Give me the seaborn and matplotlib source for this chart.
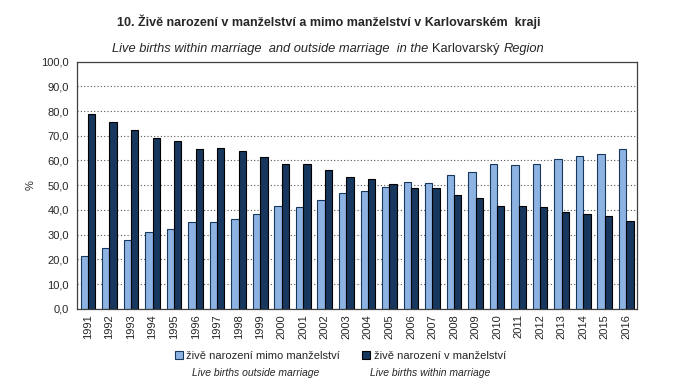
import matplotlib
matplotlib.use("Agg")
import matplotlib.pyplot as plt
import seaborn as sns
import pandas as pd
import numpy as np
from matplotlib.ticker import FixedLocator, FuncFormatter

years = [str(y) for y in range(1991, 2017)]
outside = [21.3, 24.5, 27.8, 31.0, 32.2, 35.0, 35.0, 36.3, 38.4, 41.6, 41.1, 44.0, 46.8,
           47.6, 49.2, 51.2, 50.8, 54.1, 55.3, 58.5, 58.1, 58.5, 60.5, 61.7, 62.5, 64.6]
within = [78.8, 75.6, 72.3, 69.0, 67.9, 64.7, 65.0, 63.9, 61.5, 58.5, 58.5, 56.1, 53.3,
          52.4, 50.4, 48.8, 48.8, 46.0, 44.8, 41.5, 41.5, 41.1, 39.1, 38.3, 37.5, 35.5]
series_cz = ["živě narození mimo manželství", "živě narození v manželství"]
series_en = ["Live births outside marriage", "Live births within marriage"]

df = pd.DataFrame({
    "rok": years * 2,
    "hodnota": outside + within,
    "serie": [series_cz[0]] * len(years) + [series_cz[1]] * len(years),
})

sns.set_theme(style="white")
plt.rcParams["font.family"] = ["Liberation Sans", "DejaVu Sans"]

fig = plt.figure(figsize=(6.77, 3.92), dpi=100)
ax = fig.add_axes([0.114, 0.212, 0.827, 0.631])

colors = ["#8DB3E2", "#17375E"]
sns.barplot(data=df, x="rok", y="hodnota", hue="serie", palette=colors,
            width=0.68, gap=0, saturation=1, ax=ax, legend=False)
edges = ["#17375E", "#000000"]
for cont, ec in zip(ax.containers, edges):
    for bar in cont:
        bar.set_edgecolor(ec)
        bar.set_linewidth(0.8)

ax.set_ylim(0, 100)
ax.set_xlim(-0.5, len(years) - 0.5)
ax.set_yticks(np.arange(0, 101, 10))
ax.yaxis.set_major_formatter(FuncFormatter(lambda v, p: f"{v:.1f}".replace(".", ",")))
ax.yaxis.grid(True, linestyle=(0, (1, 2)), color="#555555", linewidth=0.8)
ax.set_axisbelow(True)
ax.set_xlabel("")
ax.set_ylabel("%", fontsize=8)
ax.tick_params(axis="x", which="major", length=0, labelsize=8, labelrotation=90, pad=4)
ax.xaxis.set_minor_locator(FixedLocator(np.arange(-0.5, len(years), 1)))
ax.tick_params(axis="x", which="minor", length=4, color="#555555", direction="out")
ax.tick_params(axis="y", length=4, color="#555555", direction="out", labelsize=8, pad=2)
for s in ax.spines.values():
    s.set_color("#404040")
    s.set_linewidth(0.9)

fig.text(0.486, 0.933, "10. Živě narození v manželství a mimo manželství v Karlovarském  kraji",
         ha="center", fontsize=9, fontweight="bold")
t1 = fig.text(0.166, 0.868, "Live births within marriage  and outside marriage  in the ",
              fontsize=9.3, style="italic")
t2 = ax.annotate("Karlovarský ", xycoords=t1, xy=(1, 0), va="bottom", fontsize=9.3)
ax.annotate("Region", xycoords=t2, xy=(1, 0), va="bottom", fontsize=9.3, style="italic")

handles = [plt.Rectangle((0, 0), 1, 1, facecolor=c, edgecolor=e, linewidth=0.8)
           for c, e in zip(colors, edges)]
fig.legend(handles, series_cz, loc="center", bbox_to_anchor=(0.503, 0.093), ncol=2,
           frameon=False, fontsize=8, handlelength=0.7, handleheight=0.7,
           handletextpad=0.3, columnspacing=2.0)
fig.text(0.378, 0.04, series_en[0], ha="center", fontsize=7.5, style="italic")
fig.text(0.635, 0.04, series_en[1], ha="center", fontsize=7.5, style="italic")

fig.savefig("out.png", dpi=100)
